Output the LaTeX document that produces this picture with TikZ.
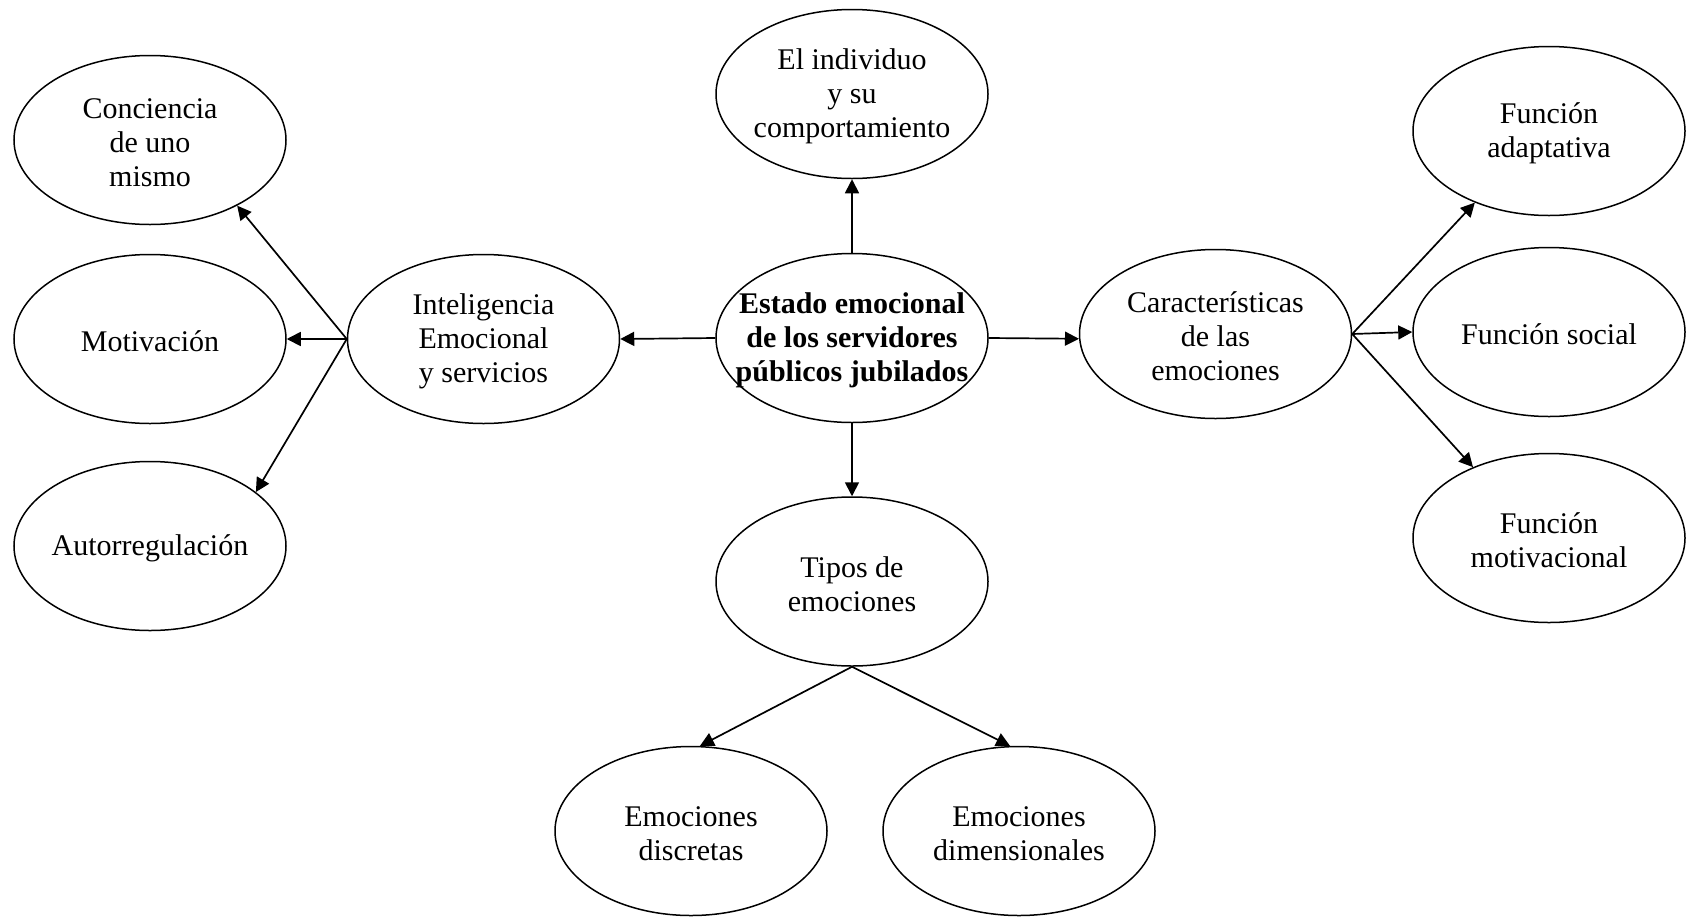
\documentclass[tikz,border=0pt]{standalone}
\usepackage{fontspec}
\setmainfont{Liberation Serif}
\usetikzlibrary{shapes.geometric,arrows.meta}
\begin{document}
\begin{tikzpicture}[x=0.5pt,y=-0.5pt,
  ell/.style={draw, line width=0.75pt, ellipse, minimum width=136pt, minimum height=84.5pt, inner sep=0pt},
  lab/.style={align=center, inner sep=0pt, yshift=-1.2pt, font=\fontsize{15}{17}\selectfont},
  blab/.style={lab, font=\fontsize{15}{17}\selectfont\bfseries},
  arr/.style={-{Triangle[length=7pt,width=7pt]}, line width=0.85pt}]
\path[fill=white,use as bounding box] (0,0) rectangle (1686,916);

\node[ell, label={[lab]center:Conciencia\\de uno\\mismo}] (conc) at (150,140) {};
\node[ell, label={[lab]center:Motivación}] (moti) at (150,339) {};
\node[ell, label={[lab]center:Autorregulación}] (auto) at (150,546) {};
\node[ell, label={[lab]center:Inteligencia\\Emocional\\y servicios}] (intel) at (483.5,339) {};
\node[ell, label={[blab]center:Estado emocional\\de los servidores\\públicos jubilados}] (estado) at (852,338) {};
\node[ell, label={[lab]center:El individuo\\y su\\comportamiento}] (indiv) at (852,94) {};
\node[ell, label={[lab]center:Tipos de\\emociones}] (tipos) at (852,581.5) {};
\node[ell, label={[lab]center:Emociones\\discretas}] (disc) at (691,831) {};
\node[ell, label={[lab]center:Emociones\\dimensionales}] (dim) at (1019,831) {};
\node[ell, label={[lab]center:Características\\de las\\emociones}] (car) at (1215.5,334) {};
\node[ell, label={[lab]center:Función\\adaptativa}] (fa) at (1549,131) {};
\node[ell, label={[lab]center:Función social}] (fs) at (1549,332) {};
\node[ell, label={[lab]center:Función\\motivacional}] (fm) at (1549,538) {};

\draw[arr] (intel.west) -- (conc.-37);
\draw[arr] (intel.west) -- (moti.east);
\draw[arr] (intel.west) -- (auto.27);
\draw[arr] (estado.west) -- (intel.east);
\draw[arr] (estado.north) -- (indiv.south);
\draw[arr] (estado.south) -- (tipos.north);
\draw[arr] (estado.east) -- (car.182);
\draw[arr] (tipos.south) -- (disc.84);
\draw[arr] (tipos.south) -- (dim.96);
\draw[arr] (car.east) -- (fa.-136);
\draw[arr] (car.east) -- (fs.west);
\draw[arr] (car.east) -- (fm.137);
\end{tikzpicture}
\end{document}
